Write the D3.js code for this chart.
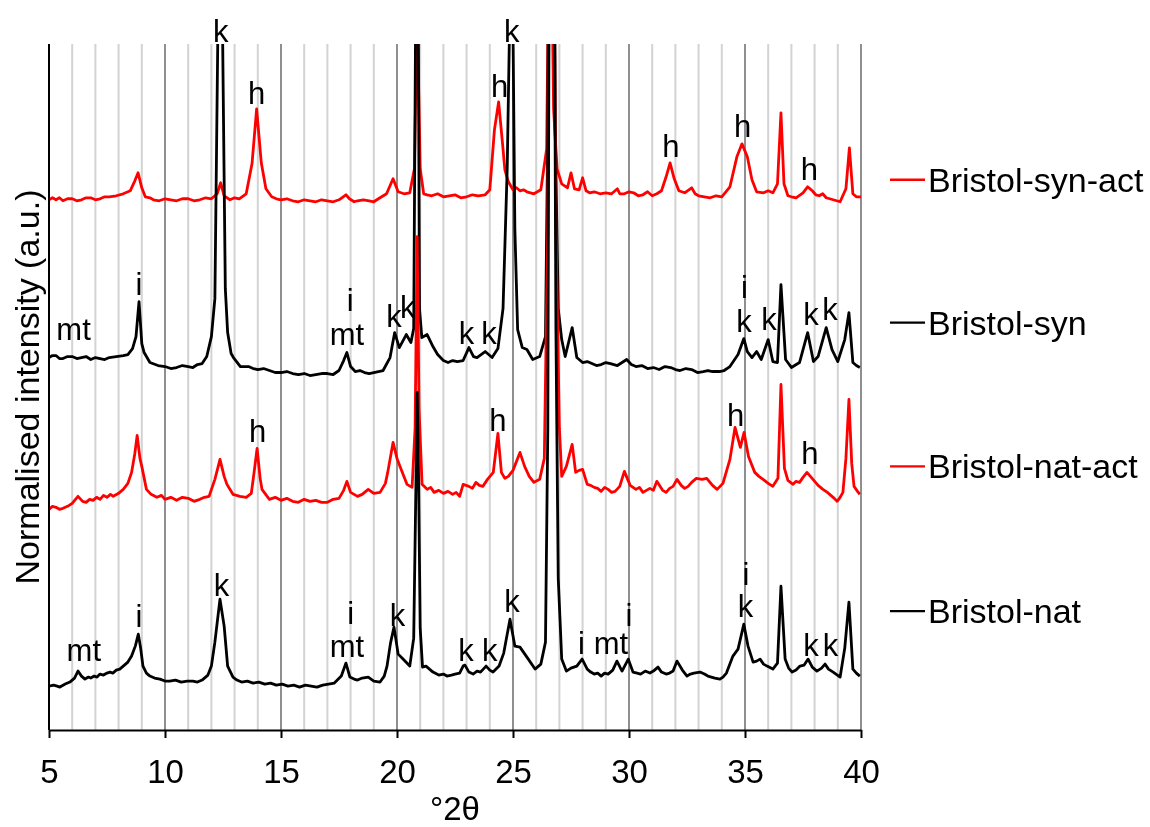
<!DOCTYPE html>
<html>
<head>
<meta charset="utf-8">
<script src="https://cdn.jsdelivr.net/npm/d3@7"></script>
<style>
  body { margin: 0; background: #fff; }
  svg { will-change: transform; }
  text { font-family: "Liberation Sans", Arial, sans-serif; fill: #000; }
</style>
</head>
<body>
<svg id="chart" width="1150" height="827"></svg>
<script>
// XRD patterns, normalised intensity (a.u.) vs °2θ, traces stacked with offsets.
const seriesNames  = ["Bristol-syn-act", "Bristol-syn", "Bristol-nat-act", "Bristol-nat"];
const seriesColors = ["#ff0000", "#000000", "#ff0000", "#000000"];
const xTicks = [5, 10, 15, 20, 25, 30, 35, 40];

// [°2θ, intensity]
const synAct = [
  [5.0,529],[5.15,531],[5.3,529],[5.45,531],[5.6,528],[5.8,530],[6.0,530],[6.2,528],[6.4,529],[6.6,531],[6.8,531],
  [7.0,529],[7.2,530],[7.4,532],[7.6,532],[7.9,533],[8.2,535],
  [8.5,538],[8.7,548],[8.84,556],[9.0,541],[9.15,532],[9.35,531],[9.5,529],[9.75,528],[10.0,530],[10.25,529],[10.5,528],
  [10.75,530],[11.0,530],[11.25,528],[11.5,529],[11.75,531],
  [12.0,530],[12.25,535],[12.4,546],[12.55,533],[12.8,529],[13.0,531],[13.2,530],[13.5,535],[13.75,565],[13.95,620],[14.15,566],
  [14.35,540],[14.6,532],[14.8,530],[15.0,529],[15.25,530],[15.5,528],[15.75,527],[16.0,529],[16.25,528],[16.5,527],
  [16.75,529],[17.0,528],[17.25,527],[17.5,529],[17.8,534],[17.95,530],
  [18.15,527],[18.3,528],[18.55,529],[18.8,528],[19.0,527],[19.2,530],[19.55,535],[19.83,550],[20.05,537],[20.3,535],[20.55,536],[20.75,560],[20.87,720],
  [21.0,560],[21.15,535],[21.3,534],[21.5,533],[21.75,535],[22.0,532],[22.25,533],[22.5,534],[22.75,531],[23.0,532],[23.25,534],[23.5,533],[23.8,534],[24.0,539],[24.2,599],
  [24.38,627],[24.55,585],[24.65,559],[24.8,547],[25.0,539],[25.15,541],[25.3,538],[25.45,539],[25.6,537],[25.9,535],[26.2,539],[26.45,580],
  [26.6,900],[26.75,620],[26.9,560],[27.1,545],[27.35,541],[27.5,556],[27.65,540],[27.85,539],[28.0,551],[28.15,538],
  [28.3,536],[28.5,537],[28.75,535],[29.0,536],[29.25,535],[29.5,540],[29.6,535],[29.8,535],[30.0,537],[30.2,536],[30.4,533],[30.6,534],
  [30.8,537],[31.0,533],[31.2,535],[31.4,538],[31.6,552],[31.77,566],
  [31.95,550],[32.15,538],[32.4,536],[32.7,541],[32.85,535],[33.0,533],[33.25,532],[33.5,531],[33.75,533],[34.0,532],[34.35,542],[34.65,572],[34.87,585],
  [35.1,572],[35.3,549],[35.5,537],[35.8,536],[36.0,538],[36.2,536],[36.4,545],[36.55,616],[36.68,545],[36.85,533],[37.0,532],[37.2,531],
  [37.5,536],[37.7,542],[37.9,538],[38.05,534],[38.2,533],[38.35,535],[38.5,531],[38.8,529],[39.1,527],[39.35,540],[39.5,581],[39.65,535],
  [39.8,532],[40.0,532]
];

const syn = [
  [5.0,371],[5.15,373],[5.3,373],[5.45,370],[5.6,370],[5.8,372],[6.0,372],[6.2,370],[6.4,371],[6.6,372],[6.8,369],[7.0,371],[7.2,370],[7.4,369],[7.6,371],[7.9,372],[8.2,373],
  [8.4,374],[8.6,380],[8.75,392],[8.88,427],[9.0,385],[9.1,376],[9.35,366],[9.7,363],[10.0,362],[10.25,360],[10.5,361],
  [10.75,363],[11.0,362],[11.2,361],[11.4,364],[11.6,365],[11.8,372],[12.0,392],[12.15,430],[12.28,700],[12.38,1100],[12.48,700],[12.6,440],[12.7,396],
  [12.85,375],[12.95,371],[13.25,362],[13.6,362],[13.8,360],[14.0,359],[14.25,360],[14.5,358],[14.75,356],[15.0,356],[15.25,357],[15.5,355],[15.75,354],[16.0,355],[16.25,353],[16.5,354],
  [16.75,355],[17.0,355],[17.25,354],[17.5,358],[17.7,368],[17.84,376],[18.0,362],[18.2,357],[18.4,358],[18.6,356],[18.8,355],[19.0,356],[19.2,357],[19.4,358],[19.7,371],
  [19.9,396],[20.1,381],[20.4,394],[20.6,386],[20.72,400],[20.8,700],[20.86,1200],[20.92,700],[20.97,420],[21.07,391],
  [21.15,392],[21.3,394],[21.55,382],[21.75,374],[22.0,368],[22.2,366],[22.4,368],[22.6,367],[22.85,368],[23.1,381],[23.3,372],[23.45,371],
  [23.8,377],[24.1,371],[24.35,380],[24.57,420],[24.75,560],[24.85,700],[24.92,1100],[25.0,700],[25.08,500],[25.2,399],
  [25.4,381],[25.6,379],[25.85,369],[26.15,372],[26.4,392],[26.5,600],[26.65,1500],[26.82,600],[26.95,420],[27.1,389],
  [27.25,372],[27.55,401],[27.75,371],[28.0,366],[28.2,367],[28.4,365],[28.6,363],[28.8,364],[29.0,366],[29.2,365],[29.5,363],[29.9,369],[30.1,364],[30.3,362],
  [30.55,363],[30.8,360],[31.05,361],[31.3,359],[31.55,362],[31.8,361],[32.0,359],[32.2,358],[32.45,360],[32.7,359],[32.95,356],[33.2,357],[33.4,358],[33.6,357],[33.9,357],[34.1,358],[34.35,362],[34.7,374],
  [34.95,390],[35.1,377],[35.3,371],[35.5,377],[35.7,369],[36.0,389],[36.2,367],[36.4,366],[36.55,444],[36.75,369],
  [37.0,361],[37.35,366],[37.7,396],[37.95,367],[38.15,372],[38.5,401],[38.75,379],[39.0,367],[39.3,389],[39.48,416],
  [39.65,366],[39.8,363],[39.95,361]
];

const natAct = [
  [5.0,219],[5.15,222],[5.3,221],[5.45,219],[5.6,220],[5.8,222],[6.0,225],[6.25,232],[6.45,227],[6.6,226],[6.75,229],[6.9,228],[7.05,231],[7.2,229],
  [7.35,233],[7.5,231],[7.65,234],[7.77,232],[8.0,235],[8.2,239],[8.4,245],[8.56,256],[8.7,275],[8.8,293],[8.92,270],[9.0,262],
  [9.2,239],[9.4,234],[9.65,231],[9.85,233],[10.0,229],[10.25,231],[10.5,228],[10.75,231],[11.0,230],[11.25,227],[11.5,229],[11.7,231],[11.9,232],[12.15,249],[12.37,269],
  [12.55,252],[12.67,244],[12.93,234],[13.23,232],[13.5,231],[13.72,235],[13.84,256],[13.97,280],[14.1,250],[14.18,239],
  [14.5,229],[14.75,231],[15.0,228],[15.25,230],[15.5,227],[15.75,226],[16.0,229],[16.25,227],[16.5,228],[16.75,226],[17.0,226],[17.25,229],[17.5,230],[17.7,238],[17.84,247],[18.0,236],
  [18.3,232],[18.5,234],[18.76,239],[19.0,235],[19.27,236],[19.5,245],[19.6,256],[19.83,286],[20.0,270],[20.13,262],[20.43,244],
  [20.65,241],[20.78,300],[20.87,492],[20.95,320],[21.08,244],[21.3,239],[21.45,241],[21.6,236],[21.8,238],[22.0,235],[22.2,237],[22.4,234],[22.55,236],[22.7,232],
  [22.85,244],[23.1,242],[23.25,240],[23.4,246],[23.55,243],[23.7,242],[23.9,249],[24.15,256],[24.35,295],[24.5,256],[24.65,250],[24.8,252],
  [25.0,258],[25.3,276],[25.5,262],[25.7,252],[25.9,246],[26.15,249],[26.35,270],[26.5,500],[26.65,1200],[26.85,500],
  [27.0,300],[27.1,252],[27.3,262],[27.55,284],[27.7,256],[27.85,258],[28.0,259],[28.2,244],[28.35,243],[28.5,241],[28.65,240],[28.8,237],
  [28.95,241],[29.1,239],[29.25,236],[29.4,237],[29.6,242],[29.8,257],[30.05,243],[30.3,239],[30.45,241],[30.6,236],[30.75,238],[30.9,240],[31.05,238],[31.2,247],[31.45,238],[31.6,236],[31.75,240],
  [31.9,242],[32.07,249],[32.25,243],[32.4,240],[32.55,242],[32.7,246],[32.9,250],[33.15,249],[33.35,250],[33.6,243],[33.8,239],[34.05,245],[34.35,269],
  [34.57,301],[34.8,281],[34.96,296],[35.15,272],[35.42,256],[35.6,252],[35.78,249],[36.0,245],[36.2,242],[36.42,250],[36.55,344],
  [36.7,260],[36.85,248],[37.07,244],[37.2,247],[37.35,246],[37.5,251],[37.67,256],[37.93,249],[38.15,243],[38.36,239],[38.55,236],[38.7,233],[38.85,230],[38.97,227],
  [39.1,231],[39.22,236],[39.35,270],[39.48,329],[39.6,265],[39.7,242],[39.85,237],[39.95,234]
];

const nat = [
  [5.0,42],[5.2,43],[5.35,42],[5.47,41],[5.7,44],[5.9,46],[6.1,50],[6.25,57],[6.4,52],[6.55,49],[6.7,51],[6.8,50],
  [6.95,52],[7.07,51],[7.2,54],[7.35,53],[7.5,55],[7.63,56],[7.75,55],[7.9,58],[8.05,59],[8.2,62],[8.4,66],[8.56,72],[8.72,82],[8.85,94],[8.95,80],
  [9.05,62],[9.2,55],[9.35,52],[9.55,50],[9.78,49],[10.0,47],[10.2,47],[10.45,48],[10.7,46],[10.95,47],[11.2,47],[11.4,46],[11.6,48],[11.85,53],[12.0,62],
  [12.15,86],[12.37,129],[12.55,102],[12.7,62],[12.93,51],[13.1,48],[13.3,46],[13.55,47],[13.8,45],[14.05,46],[14.3,44],[14.55,45],[14.8,43],[15.05,44],[15.3,42],
  [15.55,43],[15.8,41],[16.05,43],[16.3,42],[16.55,41],[16.8,43],[17.05,44],[17.3,45],[17.6,52],[17.8,65],[17.97,51],[18.15,49],[18.3,48],[18.5,50],[18.76,51],[19.0,47],
  [19.27,46],[19.45,52],[19.57,62],[19.72,85],[19.87,101],[20.05,74],[20.26,69],[20.55,62],[20.72,90],[20.82,250],
  [20.87,336],[20.93,250],[21.0,100],[21.1,61],[21.25,62],[21.4,59],[21.55,56],[21.8,53],[22.0,54],[22.15,52],[22.35,53],[22.5,54],[22.7,55],[22.85,62],
  [22.93,63],[23.1,56],[23.28,54],[23.45,57],[23.6,56],[23.84,62],[24.0,58],[24.14,56],[24.4,62],[24.6,75],[24.87,109],[25.08,82],[25.3,81],
  [25.6,71],[25.95,59],[26.2,64],[26.4,86],[26.5,300],[26.65,1500],[26.85,400],[26.95,150],[27.1,69],[27.3,57],
  [27.5,60],[27.75,62],[27.98,69],[28.2,59],[28.35,56],[28.5,54],[28.65,55],[28.8,52],[28.95,55],[29.1,54],[29.3,58],[29.48,67],[29.7,57],
  [29.97,69],[30.17,56],[30.35,55],[30.5,54],[30.7,57],[30.9,55],[31.05,57],[31.25,61],[31.4,56],[31.6,54],[31.75,55],[31.9,57],[32.07,67],[32.3,58],[32.5,52],
  [32.65,54],[32.8,55],[33.06,56],[33.25,54],[33.4,52],[33.55,51],[33.7,50],[33.92,49],[34.05,51],[34.2,55],[34.48,72],[34.7,79],[34.95,104],[35.13,82],
  [35.35,66],[35.5,67],[35.65,69],[35.8,64],[35.95,62],[36.2,59],[36.4,65],[36.55,142],[36.73,69],[36.88,60],[37.03,56],[37.2,58],[37.37,62],[37.55,63],[37.72,69],
  [37.9,61],[38.1,57],[38.3,60],[38.45,64],[38.6,59],[38.8,56],[39.1,51],[39.3,80],[39.48,126],[39.65,59],[39.8,55],[39.95,52]
];

// phase labels: [text, °2θ, intensity at text baseline]
const peakLabels = [
  ["k",12.4,687],["h",13.95,625],["k",24.95,687],["h",24.42,632],["h",31.8,572],["h",34.9,592],["h",37.78,549],
  ["mt",6.06,389],["i",8.88,434],["i",17.98,418],["mt",17.84,384],["k",19.87,402],["k",20.46,411],
  ["k",23.0,385],["k",23.97,385],["i",34.98,431],["k",34.96,397],["k",36.03,399],["k",37.84,404],["k",38.66,409],
  ["h",13.99,286],["h",24.35,297],["h",34.6,302],["h",37.8,264],
  ["mt",6.5,67],["i",8.88,101],["k",12.43,132],["i",18.0,104],["mt",17.84,71],["k",20.02,102],
  ["k",22.97,67],["k",24.0,67],["k",24.96,116],["i",27.95,74],["mt",29.22,74],["i",30.0,102],
  ["i",35.04,143],["k",35.02,111],["k",37.84,72],["k",38.68,72]
];

const seriesData = [synAct, syn, natAct, nat];
// legend anchor heights, intensity units
const legendLevels = [549, 406, 262, 117];

const svg = d3.select("#chart");
const plot = { left: 49, right: 861, top: 44, bottom: 730 };

const x = d3.scaleLinear().domain([5, 40]).range([plot.left, plot.right]);
const y = d3.scaleLinear().domain([-1, 685]).range([plot.bottom - 1, plot.top]);

// vertical gridlines at every degree, darker every 5°
const gridVals = d3.range(6, 41);
svg.append("g").selectAll("line").data(gridVals).join("line")
  .attr("x1", d => x(d)).attr("x2", d => x(d))
  .attr("y1", plot.top).attr("y2", plot.bottom)
  .attr("stroke", d => d % 5 === 0 ? "#8f8f8f" : "#d3d3d3")
  .attr("stroke-width", 2);

svg.append("defs").append("clipPath").attr("id", "plotClip")
  .append("rect")
  .attr("x", plot.left).attr("y", plot.top)
  .attr("width", plot.right - plot.left + 2).attr("height", plot.bottom - plot.top);

const line = d3.line().x(d => x(d[0])).y(d => y(d[1]));

svg.append("g").attr("clip-path", "url(#plotClip)")
  .selectAll("path").data(seriesData).join("path")
  .attr("d", line)
  .attr("fill", "none")
  .attr("stroke", (d, i) => seriesColors[i])
  .attr("stroke-width", 2.8)
  .attr("stroke-linejoin", "round");

// axes
svg.append("line")
  .attr("x1", plot.left).attr("x2", plot.left)
  .attr("y1", plot.top).attr("y2", plot.bottom)
  .attr("stroke", "#000").attr("stroke-width", 2);

const xAxis = d3.axisBottom(x).tickValues(xTicks).tickSize(8).tickSizeOuter(0).tickPadding(22);
const gx = svg.append("g").attr("transform", `translate(0,${plot.bottom})`).call(xAxis);
gx.select(".domain").attr("stroke", "#000").attr("stroke-width", 2);
gx.selectAll(".tick line").attr("stroke", "#000").attr("stroke-width", 2);
gx.selectAll(".tick text")
  .style("font-family", "'Liberation Sans', Arial, sans-serif")
  .style("font-size", "33px").attr("fill", "#000");

svg.append("text")
  .attr("x", (plot.left + plot.right) / 2).attr("y", 820)
  .attr("text-anchor", "middle").style("font-size", "33px")
  .text("°2θ");

svg.append("text")
  .attr("transform", `translate(39,${(plot.top + plot.bottom) / 2}) rotate(-90)`)
  .attr("text-anchor", "middle").style("font-size", "34px")
  .text("Normalised intensity (a.u.)");

// phase labels
svg.append("g").selectAll("text").data(peakLabels).join("text")
  .attr("x", d => x(d[1])).attr("y", d => y(d[2]))
  .attr("text-anchor", "middle").style("font-size", "31px")
  .text(d => d[0]);

// legend
const lg = svg.append("g").selectAll("g").data(seriesNames).join("g")
  .attr("transform", (d, i) => `translate(890,${y(legendLevels[i])})`);
lg.append("line").attr("x1", 0).attr("x2", 35).attr("y1", 0).attr("y2", 0)
  .attr("stroke", (d, i) => seriesColors[i]).attr("stroke-width", 2.4);
lg.append("text").attr("x", 38).attr("y", 12).style("font-size", "34px").text(d => d);
</script>
</body>
</html>
